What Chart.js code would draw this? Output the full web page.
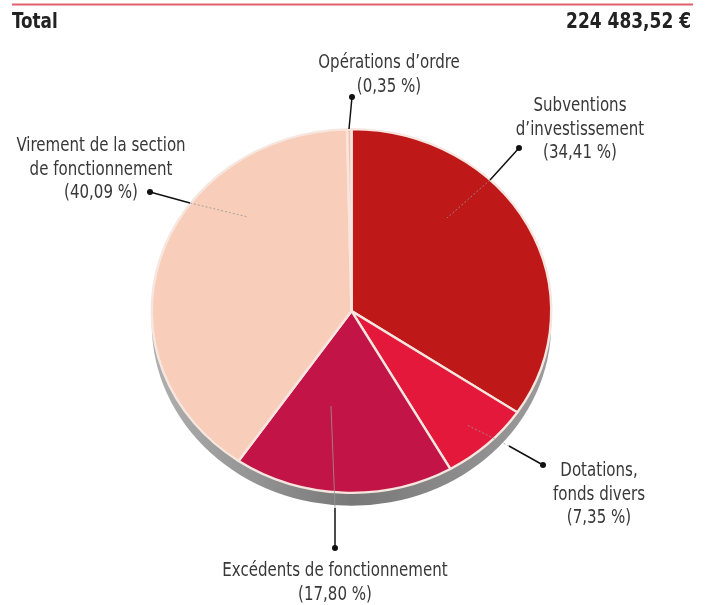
<!DOCTYPE html>
<html>
<head>
<meta charset="utf-8">
<script src="https://cdn.jsdelivr.net/npm/chart.js@4.4.1/dist/chart.umd.min.js"></script>
<style>
  html, body { margin: 0; padding: 0; background: #fff; }
  #wrap { position: relative; width: 711px; height: 605px; }
</style>
</head>
<body>
<div id="wrap"><canvas id="pieChart" width="711" height="605"></canvas></div>
<script>
// data, clockwise from 12 o'clock
const categories = ['Subventions d\u2019investissement', 'Dotations, fonds divers', 'Excédents de fonctionnement', 'Virement de la section de fonctionnement', 'Opérations d\u2019ordre'];
const shares = [34.41, 7.35, 17.80, 40.09, 0.35];
const sliceColors = ['#bf1818', '#e3183a', '#c31447', '#f8cdb9', '#f3c2ae'];
const labelLines = [
  ['Subventions', 'd\u2019investissement'],
  ['Dotations,', 'fonds divers'],
  ['Excédents de fonctionnement'],
  ['Virement de la section', 'de fonctionnement'],
  ['Opérations d\u2019ordre']
];
const totalLabel = 'Total';
const totalValue = '224 483,52 €';

const SY = 0.91;      // vertical squash of the pie
const RIM = 13;       // depth of the grey rim
const FONT = '19px "Liberation Sans Narrow", "DejaVu Sans Condensed", sans-serif';
const NARROW = 0.88;  // horizontal squeeze for condensed look

// label layout: text centre x, first baseline y, dot, edge point, inner point
const callouts = [
  { tx: 580, ty: 111, dot: [519, 148], edge: [490, 180], inner: [447, 218] },
  { tx: 599, ty: 476, dot: [543, 465], edge: [509, 446], inner: [467, 425] },
  { tx: 335, ty: 576, dot: [335, 548], edge: [335, 508], inner: [331, 406] },
  { tx: 101, ty: 151, dot: [150, 192], edge: [190, 203], inner: [248, 217] },
  { tx: 389, ty: 68,  dot: [352, 97],  edge: [349, 129], inner: null }
];

function pct(v) {
  return '(' + v.toFixed(2).replace('.', ',') + ' %)';
}

function narrowText(ctx, t, x, y, sx) {
  ctx.save();
  ctx.translate(x, y);
  ctx.scale(sx, 1);
  ctx.fillText(t, 0, 0);
  ctx.restore();
}

const pie3d = {
  id: 'pie3d',
  beforeDatasetsDraw(chart) {
    const ctx = chart.ctx;
    const arc = chart.getDatasetMeta(0).data[0];
    const cx = arc.x, cy = arc.y, r = arc.outerRadius;
    ctx.save();
    const g = ctx.createLinearGradient(cx - r, 0, cx + r, 0);
    g.addColorStop(0, '#b0b0b0');
    g.addColorStop(0.5, '#787878');
    g.addColorStop(1, '#9c9c9c');
    ctx.fillStyle = g;
    ctx.beginPath();
    ctx.ellipse(cx, cy + RIM, r, r * SY, 0, 0, Math.PI * 2);
    ctx.fill();
    ctx.restore();
    ctx.save();
    ctx.translate(cx, cy);
    ctx.scale(1, SY);
    ctx.translate(-cx, -cy);
  },
  afterDatasetsDraw(chart) {
    const ctx = chart.ctx;
    ctx.restore();
    ctx.save();
    callouts.forEach((c, i) => {
      if (c.inner) {
        ctx.strokeStyle = 'rgba(150,150,150,0.8)';
        ctx.lineWidth = 1;
        ctx.setLineDash(i === 2 ? [] : [2, 2]);
        ctx.beginPath();
        ctx.moveTo(c.edge[0], c.edge[1]);
        ctx.lineTo(c.inner[0], c.inner[1]);
        ctx.stroke();
      }
      ctx.setLineDash([]);
      ctx.strokeStyle = '#111';
      ctx.lineWidth = 1.5;
      ctx.beginPath();
      ctx.moveTo(c.dot[0], c.dot[1]);
      ctx.lineTo(c.edge[0], c.edge[1]);
      ctx.stroke();
      ctx.fillStyle = '#111';
      ctx.beginPath();
      ctx.arc(c.dot[0], c.dot[1], 3, 0, Math.PI * 2);
      ctx.fill();

      ctx.fillStyle = '#383838';
      ctx.font = FONT;
      ctx.textAlign = 'center';
      ctx.textBaseline = 'alphabetic';
      const lines = labelLines[i].concat([pct(shares[i])]);
      lines.forEach((t, k) => narrowText(ctx, t, c.tx, c.ty + k * 23.5, NARROW));
    });

    // header
    ctx.strokeStyle = '#e0606a';
    ctx.lineWidth = 2;
    ctx.beginPath();
    ctx.moveTo(12, 4.5);
    ctx.lineTo(693, 4.5);
    ctx.stroke();
    ctx.fillStyle = '#222';
    ctx.font = 'bold 22px "Liberation Sans Narrow", "DejaVu Sans Condensed", sans-serif';
    ctx.textAlign = 'left';
    narrowText(ctx, totalLabel, 12, 28, 0.85);
    ctx.textAlign = 'right';
    narrowText(ctx, totalValue, 691, 28, 0.86);
    ctx.restore();
  }
};

new Chart(document.getElementById('pieChart'), {
  type: 'pie',
  data: {
    labels: categories,
    datasets: [{
      data: shares,
      backgroundColor: sliceColors,
      borderColor: '#f6e6df',
      borderWidth: 2.5
    }]
  },
  options: {
    responsive: false,
    animation: false,
    events: [],
    layout: { padding: { left: 149, right: 157, top: 110, bottom: 93 } },
    plugins: { legend: { display: false }, tooltip: { enabled: false } }
  },
  plugins: [pie3d]
});
</script>
</body>
</html>
